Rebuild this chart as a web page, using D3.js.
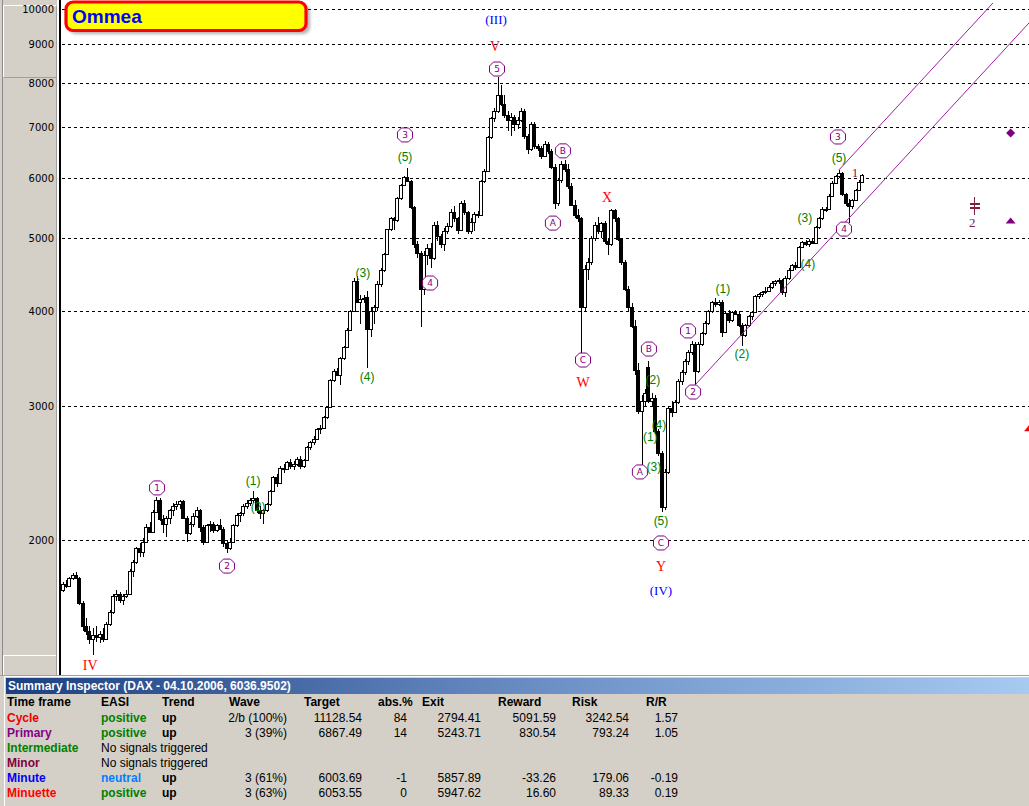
<!DOCTYPE html>
<html><head><meta charset="utf-8">
<script src="https://cdn.jsdelivr.net/npm/d3@7"></script>
<style>body{margin:0;background:#fff;overflow:hidden}svg{display:block}</style>
</head><body><svg id="c" width="1029" height="806"></svg>
<script>
// ---------------- DATA ----------------
const opens = [1720,1750,1740,1780,1800,1785,1650,1540,1520,1480,1500,1490,1505,1480,1550,1610,1690,1700,1665,1690,
1700,1820,1870,1950,1930,1990,2080,2050,2180,2260,2130,2100,2140,2190,2220,2230,2250,2140,2040,2100,
2150,2190,2080,1990,2090,2100,2060,2090,2070,1980,1950,1990,2090,2160,2170,2220,2240,2260,2270,2190,
2170,2190,2230,2320,2420,2380,2490,2480,2530,2500,2520,2560,2500,2550,2650,2690,2720,2800,2810,2900,
2990,3250,3340,3300,3470,3590,3780,4000,4380,4120,4150,4180,3790,4000,4050,4350,4530,4760,5130,5300,
5280,5640,5870,6010,5930,5480,4900,4780,4280,4750,4850,4700,5200,5020,4900,5100,5180,5400,5300,5120,
5550,5400,5100,5250,5380,5350,5940,6120,6780,7180,7350,7700,7500,7250,7150,7200,7050,7150,7350,6800,
6550,7050,6600,6560,6400,6650,6500,6200,5560,5950,6250,6150,5850,5520,5350,5300,4050,4550,4650,5000,
5200,5100,5230,4950,4900,5440,5300,4980,4640,4280,4050,3830,3350,2960,3050,3380,3050,3080,2780,2600,
2210,2460,2980,2950,3040,3240,3330,3440,3540,3620,3340,3620,3740,3860,4000,4110,4090,4120,3760,3980,
3900,3990,3970,3840,3720,3840,3940,3990,4190,4210,4240,4260,4310,4360,4390,4400,4240,4420,4540,4600,
4570,4860,4930,4900,4950,4920,5160,5300,5460,5450,5680,5900,6030,6080,5700,5560,5510,5600,5780,5920];
const highs = [1760,1770,1790,1810,1815,1790,1660,1580,1540,1530,1540,1520,1530,1560,1620,1700,1720,1710,1700,1720,
1830,1880,1960,1980,2010,2100,2110,2190,2280,2270,2160,2150,2200,2240,2250,2260,2255,2150,2110,2170,
2210,2200,2090,2100,2120,2110,2100,2130,2080,2000,2010,2100,2170,2180,2230,2260,2270,2320,2280,2220,
2200,2240,2330,2430,2440,2500,2520,2540,2560,2540,2570,2580,2560,2660,2700,2740,2810,2830,2910,3000,
3260,3360,3370,3480,3600,3800,4010,4420,4450,4200,4200,4250,4050,4080,4380,4560,4780,5140,5320,5330,
5660,5890,6030,6180,5960,5500,4950,4800,4800,4900,4920,5250,5260,5060,5150,5220,5450,5500,5320,5580,
5600,5420,5300,5400,5420,5960,6150,6800,7200,7400,8140,7950,7700,7350,7300,7250,7200,7400,7380,6850,
7100,7100,6650,6600,6700,6680,6550,6250,6000,6300,6320,6250,5900,5600,5450,5330,4600,4700,5020,5250,
5320,5250,5260,5000,5450,5460,5320,5000,4680,4320,4100,3900,3420,3100,3160,3440,3120,3100,2800,2620,
2480,3000,3050,3060,3260,3350,3460,3560,3660,3640,3640,3760,3880,4020,4130,4160,4140,4140,4000,4010,
4000,4020,4000,3860,3850,3960,4000,4200,4230,4250,4300,4330,4380,4400,4420,4410,4450,4560,4620,4640,
4880,4950,4960,4980,5000,5180,5320,5480,5480,5700,5930,6050,6140,6100,5720,5620,5620,5800,5950,6060];
const lows = [1710,1730,1735,1770,1775,1640,1520,1500,1460,1410,1470,1465,1470,1475,1540,1600,1660,1650,1640,1680,
1695,1790,1860,1900,1900,1980,2040,2040,2170,2120,2040,2020,2100,2150,2190,2200,2130,1990,2030,2080,
2140,2050,1970,1980,2050,2040,2050,2060,1960,1920,1940,1985,2080,2110,2150,2200,2220,2240,2170,2130,
2100,2180,2220,2310,2350,2370,2450,2470,2480,2470,2500,2480,2490,2540,2630,2670,2710,2760,2800,2890,
2980,3230,3290,3200,3450,3580,3770,3990,4100,3850,4100,3370,3700,3850,4000,4300,4500,4740,5100,5120,
5250,5600,5850,5950,5450,4840,4700,3810,4200,4600,4560,4680,4950,4850,4800,5050,5150,5250,5050,5100,
5350,5050,5050,5100,5300,5340,5900,6100,6750,7100,7300,7450,7180,6900,6800,6900,6950,7100,6750,6450,
6500,6550,6500,6350,6380,6450,6150,5450,5500,5900,6100,5800,5500,5300,5250,3450,4000,4400,4600,4950,
5050,5000,4900,4750,4880,5250,4950,4600,4250,4000,3800,3300,2930,2470,3000,3030,3000,2760,2580,2180,
2190,2440,2900,2940,3020,3200,3300,3400,3500,3200,3320,3600,3720,3840,3980,4050,4060,3700,3740,3860,
3870,3950,3820,3600,3700,3820,3900,3980,4150,4180,4220,4240,4280,4320,4350,4200,4180,4400,4520,4540,
4560,4840,4880,4860,4900,4900,5140,5280,5400,5430,5660,5880,5990,5680,5500,5230,5450,5580,5760,5900];
const closes = [1750,1740,1780,1800,1785,1650,1540,1520,1480,1500,1490,1505,1480,1550,1610,1690,1700,1665,1690,1700,
1820,1870,1950,1930,1990,2080,2050,2180,2260,2130,2100,2140,2190,2220,2230,2250,2140,2040,2100,2150,
2190,2080,1990,2090,2100,2060,2090,2070,1980,1950,1990,2090,2160,2170,2220,2240,2260,2270,2190,2170,
2190,2230,2320,2420,2380,2490,2480,2530,2500,2520,2560,2500,2550,2650,2690,2720,2800,2810,2900,2990,
3250,3340,3300,3470,3590,3780,4000,4380,4120,4150,4160,3790,4000,4050,4350,4530,4760,5130,5300,5280,
5640,5870,6010,5930,5480,4900,4780,4280,4750,4850,4700,5200,5020,4900,5100,5180,5400,5300,5120,5550,
5400,5100,5250,5380,5350,5940,6120,6780,7180,7350,7700,7500,7250,7150,7200,7050,7150,7350,6800,6550,
7050,6600,6560,6400,6650,6500,6200,5560,5950,6250,6150,5850,5520,5350,5300,4050,4550,4650,5000,5200,
5100,5230,4950,4900,5440,5300,4980,4640,4280,4050,3830,3350,2960,3050,3120,3050,3080,2780,2600,2210,
2460,2980,2950,3040,3240,3330,3440,3540,3620,3340,3620,3740,3860,4000,4110,4090,4120,3760,3980,3900,
3990,3970,3840,3720,3840,3940,3990,4190,4210,4240,4260,4310,4360,4390,4400,4240,4420,4540,4600,4570,
4860,4930,4900,4950,4920,5160,5300,5460,5450,5680,5900,6030,6080,5700,5560,5510,5600,5780,5920,6040];

const yTicks = [2000,3000,4000,5000,6000,7000,8000,9000,10000];

// wave labels: [text, bar position, price]
const primaryLabels = [["1",28.2,2342],["2",49.1,1848],["3",102.3,6827],["4",109.8,4358],["5",129.8,8337],
 ["A",146.5,5226],["B",149.5,6505],["C",155.5,3451],["A",172.5,2458],["B",175.2,3568],["C",178.8,1982],
 ["1",186.9,3769],["2",188.4,3132],["3",231.7,6785],["4",233.5,5132]];
const intermediateLabels = [["(1)",56.9,2392],["(2)",58.4,2211],["(3)",89.7,4493],["(4)",91.0,3279],["(5)",102.3,6387],
 ["(2)",176.4,3249],["(1)",175.6,2735],["(4)",178.2,2840],["(3)",176.7,2496],["(5)",178.8,2118],
 ["(1)",197.3,4279],["(2)",203.0,3514],["(3)",221.8,5306],["(4)",222.7,4617],["(5)",232.0,6366]];
const cycleLabels = [["IV",8.2,1369],["V",129.2,8939],["W",155.5,3228],["X",162.7,5654],["Y",178.8,1848]];
const supercycleLabels = [["(III)",129.5,9701],["(IV)",178.8,1714]];
const minorLabels = [["1",236.8,6100],["2",271.8,5243]];
const channelLower = [[189,3200],[292,9930]];
const channelUpper = [[232,6140],[278,10183]];
const targetDiamond = [283.3, 6867.49];
const exitTriangles = [[283.3, 5243.71],[288.8, 2794.41]];
const minorBand = [272.4, 5504];

const title = "Ommea";
const inspectorTitle = "Summary Inspector (DAX - 04.10.2006, 6036.9502)";
const headers = ["Time frame","EASI","Trend","Wave","Target","abs.%","Exit","Reward","Risk","R/R"];
const tfNames = ["Cycle","Primary","Intermediate","Minor","Minute","Minuette"];
const easi = ["positive","positive","No signals triggered","No signals triggered","neutral","positive"];
const trend = ["up","up","","","up","up"];
const wave = ["2/b (100%)","3 (39%)","","","3 (61%)","3 (63%)"];
const target = ["11128.54","6867.49","","","6003.69","6053.55"];
const absPct = ["84","14","","","-1","0"];
const exitV = ["2794.41","5243.71","","","5857.89","5947.62"];
const reward = ["5091.59","830.54","","","-33.26","16.60"];
const risk = ["3242.54","793.24","","","179.06","89.33"];
const rr = ["1.57","1.05","","","-0.19","0.19"];

// ---------------- STYLE ----------------
const tfColors = ["#ee0000","#880088","#008000","#800040","#0000ff","#ff0000"];
const easiColors = {"positive":"#008000","neutral":"#0080ff"};

// ---------------- DRAW ----------------
const svg = d3.select("#c");
const W = 1029, plotBottom = 675;
const x = d3.scaleLinear().domain([0, 239]).range([62.7, 862.4]);
const y = d3.scaleLog().domain([2000, 10000]).range([540, 9]);

const defs = svg.append("defs");
defs.append("clipPath").attr("id","plot").append("rect").attr("x",61).attr("y",0).attr("width",W-61).attr("height",plotBottom);
const grad = defs.append("linearGradient").attr("id","tb").attr("x1","0").attr("x2","1");
grad.append("stop").attr("offset","0").attr("stop-color","#1c3f80");
grad.append("stop").attr("offset","0.55").attr("stop-color","#6f93c8");
grad.append("stop").attr("offset","1").attr("stop-color","#a6caf0");
const blur = defs.append("filter").attr("id","sh").attr("x","-10%").attr("y","-30%").attr("width","130%").attr("height","180%");
blur.append("feGaussianBlur").attr("stdDeviation","1.6");

svg.append("rect").attr("width",W).attr("height",806).attr("fill","#fff");

// left axis panel
const lp = svg.append("g");
lp.append("rect").attr("x",0).attr("y",0).attr("width",57).attr("height",plotBottom).attr("fill","#d4d0c8");
lp.append("line").attr("x1",2.5).attr("x2",2.5).attr("y1",0).attr("y2",plotBottom).attr("stroke","#8a8a8a");
lp.append("path").attr("d","M3.5,77.5V5.5H56.5").attr("fill","none").attr("stroke","#ffffff");
lp.append("path").attr("d","M3.5,77.5H56.5V5.5").attr("fill","none").attr("stroke","#a0a0a0");
lp.append("path").attr("d","M3.5,675V655.5H56.5").attr("fill","none").attr("stroke","#ffffff");
lp.append("line").attr("x1",56.5).attr("x2",56.5).attr("y1",77).attr("y2",plotBottom).attr("stroke","#a0a0a0");
svg.append("rect").attr("x",59).attr("y",0).attr("width",2).attr("height",plotBottom).attr("fill","#000");

// grid + tick labels
svg.append("g").selectAll("line").data(yTicks).join("line")
  .attr("x1",62).attr("x2",W).attr("y1",d=>Math.round(y(d))+0.5).attr("y2",d=>Math.round(y(d))+0.5)
  .attr("stroke","#000").attr("stroke-dasharray","3,3").attr("shape-rendering","crispEdges");
svg.append("g").selectAll("text").data(yTicks).join("text")
  .attr("x",54).attr("y",d=>y(d)+4).attr("text-anchor","end")
  .attr("font-family","DejaVu Sans").attr("font-size","10px").attr("fill","#000").text(d=>d);

const plot = svg.append("g").attr("clip-path","url(#plot)");

// candles
const bars = d3.range(opens.length);
const cg = plot.append("g").attr("shape-rendering","crispEdges");
cg.selectAll("line").data(bars).join("line")
  .attr("x1",i=>Math.round(x(i))+0.5).attr("x2",i=>Math.round(x(i))+0.5)
  .attr("y1",i=>Math.round(y(highs[i]))).attr("y2",i=>Math.round(y(lows[i])))
  .attr("stroke","#000");
cg.selectAll("rect").data(bars).join("rect")
  .attr("x",i=>Math.round(x(i))-1.5)
  .attr("y",i=>Math.round(y(Math.max(opens[i],closes[i])))+0.5)
  .attr("width",3)
  .attr("height",i=>Math.max(1,Math.round(y(Math.min(opens[i],closes[i])))-Math.round(y(Math.max(opens[i],closes[i])))))
  .attr("fill",i=>closes[i]>=opens[i]?"#fff":"#000").attr("stroke","#000");

// channel lines
const ln = d3.line().x(d=>x(d[0])).y(d=>y(d[1]));
[channelLower, channelUpper].forEach(c=>{
  plot.append("path").attr("d",ln(c)).attr("fill","none").attr("stroke","#a020a0").attr("stroke-width",1);
});

// primary circled labels (octagons)
const oct = "M-3.5,-7L3.5,-7L7.5,-3L7.5,3L3.5,7L-3.5,7L-7.5,3L-7.5,-3Z";
const pg = plot.append("g").selectAll("g").data(primaryLabels).join("g")
  .attr("transform",d=>`translate(${x(d[1])},${y(d[2])})`);
pg.append("path").attr("d",oct).attr("fill","#fff").attr("stroke","#800080");
pg.append("text").attr("text-anchor","middle").attr("dy","0.36em")
  .attr("font-family","DejaVu Sans").attr("font-size","9px").attr("fill","#800080").text(d=>d[0]);

plot.append("g").selectAll("text").data(intermediateLabels).join("text")
  .attr("x",d=>x(d[1])).attr("y",d=>y(d[2])).attr("dy","0.35em").attr("text-anchor","middle")
  .attr("font-family","Liberation Sans").attr("font-size","12px").attr("fill","#008000").text(d=>d[0]);

plot.append("g").selectAll("text").data(cycleLabels).join("text")
  .attr("x",d=>x(d[1])).attr("y",d=>y(d[2])).attr("dy","0.35em").attr("text-anchor","middle")
  .attr("font-family","Liberation Serif").attr("font-size","14px").attr("fill","#ff0000").text(d=>d[0]);

plot.append("g").selectAll("text").data(supercycleLabels).join("text")
  .attr("x",d=>x(d[1])).attr("y",d=>y(d[2])).attr("dy","0.35em").attr("text-anchor","middle")
  .attr("font-family","Liberation Serif").attr("font-size","13px").attr("fill","#0000ff").text(d=>d[0]);

plot.append("g").selectAll("text").data(minorLabels).join("text")
  .attr("x",d=>x(d[1])).attr("y",d=>y(d[2])).attr("dy","0.35em").attr("text-anchor","middle")
  .attr("font-family","Liberation Serif").attr("font-size","13px").attr("fill","#802040").text(d=>d[0]);

// minor band marker
{
  const mx = Math.round(x(minorBand[0]))+0.5, my = Math.round(y(minorBand[1]));
  const mg = plot.append("g").attr("stroke","#802040").attr("shape-rendering","crispEdges");
  mg.append("line").attr("x1",mx).attr("x2",mx).attr("y1",my-9).attr("y2",my+9);
  mg.append("rect").attr("x",mx-4.5).attr("y",my-3).attr("width",9).attr("height",1).attr("fill","#802040");
  mg.append("rect").attr("x",mx-4.5).attr("y",my+1).attr("width",9).attr("height",1).attr("fill","#802040");
}
// target diamond
{
  const dx = x(targetDiamond[0]), dy = y(targetDiamond[1]);
  plot.append("path").attr("d",`M${dx},${dy-4.5}L${dx+4.5},${dy}L${dx},${dy+4.5}L${dx-4.5},${dy}Z`).attr("fill","#800080");
}
// exit triangles
plot.append("g").selectAll("path").data(exitTriangles).join("path")
  .attr("d",d=>{const tx=x(d[0]),ty=y(d[1]);return `M${tx},${ty-4.5}L${tx+5},${ty+1.5}L${tx-5},${ty+1.5}Z`;})
  .attr("fill",(d,i)=>i===0?"#800080":"#ff0000");

// title box
svg.append("rect").attr("x",69).attr("y",5).attr("width",241).attr("height",29).attr("rx",7)
  .attr("fill","#777").attr("opacity",0.55).attr("filter","url(#sh)");
svg.append("rect").attr("x",66).attr("y",2).attr("width",240).attr("height",28.5).attr("rx",7)
  .attr("fill","#ffff00").attr("stroke","#ff0000").attr("stroke-width",3.2);
svg.append("text").attr("x",72).attr("y",23).attr("font-family","Liberation Sans").attr("font-weight","bold")
  .attr("font-size","19px").attr("fill","#0000ff").text(title);

// ---------------- SUMMARY INSPECTOR ----------------
const sp = svg.append("g");
sp.append("rect").attr("x",0).attr("y",plotBottom).attr("width",W).attr("height",806-plotBottom).attr("fill","#d4d0c8");
sp.append("line").attr("x1",0).attr("x2",W).attr("y1",plotBottom+0.5).attr("y2",plotBottom+0.5).attr("stroke","#a0a0a0");
sp.append("line").attr("x1",4).attr("x2",W).attr("y1",plotBottom+1.5).attr("y2",plotBottom+1.5).attr("stroke","#ffffff");
sp.append("line").attr("x1",4.5).attr("x2",4.5).attr("y1",plotBottom+1).attr("y2",806).attr("stroke","#ffffff");
sp.append("rect").attr("x",6).attr("y",678).attr("width",W-6).attr("height",16).attr("fill","url(#tb)");
sp.append("text").attr("x",8).attr("y",690).attr("font-family","Liberation Sans").attr("font-weight","bold")
  .attr("font-size","12px").attr("fill","#fff").text(inspectorTitle);

const font = "Liberation Sans";
const headX = [7,101,162,229,304,378,422,498,572,646];
sp.append("g").selectAll("text").data(headers).join("text")
  .attr("x",(d,i)=>headX[i]).attr("y",706).attr("font-family",font).attr("font-weight","bold")
  .attr("font-size","12px").attr("fill","#000").text(d=>d);

const rowY = i => 722 + 15*i;
tfNames.forEach((name,i)=>{
  const ry = rowY(i);
  sp.append("text").attr("x",7).attr("y",ry).attr("font-family",font).attr("font-weight","bold")
    .attr("font-size","12px").attr("fill",tfColors[i]).text(name);
  const e = easi[i];
  if (easiColors[e]) {
    sp.append("text").attr("x",101).attr("y",ry).attr("font-family",font).attr("font-weight","bold")
      .attr("font-size","12px").attr("fill",easiColors[e]).text(e);
  } else {
    sp.append("text").attr("x",101).attr("y",ry).attr("font-family",font)
      .attr("font-size","12px").attr("fill","#000").text(e);
  }
  if (trend[i]) sp.append("text").attr("x",162).attr("y",ry).attr("font-family",font).attr("font-weight","bold")
      .attr("font-size","12px").attr("fill","#000").text(trend[i]);
  const cols = [[wave,287],[target,362],[absPct,407],[exitV,481],[reward,556],[risk,629],[rr,678]];
  cols.forEach(([arr,rx])=>{
    if (arr[i]) sp.append("text").attr("x",rx).attr("y",ry).attr("text-anchor","end").attr("font-family",font)
      .attr("font-size","12px").attr("fill","#000").text(arr[i]);
  });
});
</script></body></html>
